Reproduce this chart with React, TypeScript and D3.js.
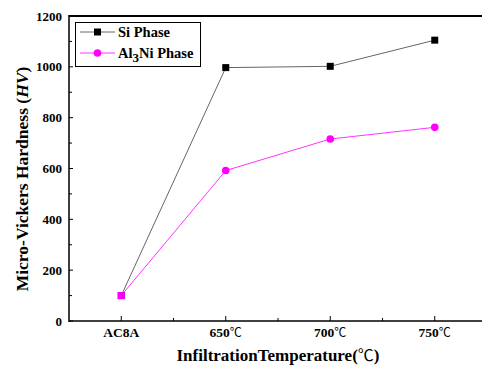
import React from "react";
import * as d3 from "d3";

const categories = ["AC8A", "650", "700", "750"];
const categoryUnit = ["", "℃", "℃", "℃"];
const siValues = [100, 997, 1002, 1105];
const alValues = [100, 592, 716, 762];
const yTicks = [0, 200, 400, 600, 800, 1000, 1200];
const yMinorTicks = [100, 300, 500, 700, 900, 1100];

const W = 482, H = 367;
const L = 69, T = 16, R = 487, B = 321;

export default function App() {
  const x = d3.scalePoint<string>().domain(categories).range([L, R]).padding(0.5);
  const y = d3.scaleLinear().domain([0, 1200]).range([B, T]);
  const step = x.step();
  const minorX = categories.slice(0, -1).map((c) => (x(c) as number) + step / 2);
  const line = d3.line<[number, number]>().x((d) => d[0]).y((d) => d[1]);
  const siPts: [number, number][] = categories.map((c, i) => [x(c) as number, y(siValues[i])]);
  const alPts: [number, number][] = categories.map((c, i) => [x(c) as number, y(alValues[i])]);
  const font = "'Liberation Serif', 'Times New Roman', serif";
  const cjk = "'Noto Sans CJK SC', sans-serif";
  return (
    <svg width={W} height={H} style={{ position: "absolute", left: 0, top: 0, background: "#fff" }} fontFamily={font}>
      <rect x={0} y={0} width={W} height={H} fill="#fff" />
      {/* axes frame */}
      <line x1={L} y1={T} x2={W} y2={T} stroke="#000" strokeWidth={2} />
      <line x1={L} y1={T - 1} x2={L} y2={B + 1} stroke="#000" strokeWidth={1.5} />
      <line x1={L} y1={B} x2={W} y2={B} stroke="#000" strokeWidth={1.5} />
      {yTicks.map((t) => (
        <g key={"y" + t}>
          <line x1={L} x2={L + 4} y1={y(t)} y2={y(t)} stroke="#000" strokeWidth={1} />
          <text x={62} y={y(t)} dy="0.35em" textAnchor="end" fontSize={13} fontWeight="bold">{t}</text>
        </g>
      ))}
      {yMinorTicks.map((t) => (
        <line key={"ym" + t} x1={L} x2={L + 3} y1={y(t)} y2={y(t)} stroke="#000" strokeWidth={1} />
      ))}
      {categories.map((c, i) => (
        <g key={c}>
          <line x1={x(c)} x2={x(c)} y1={B} y2={B - 5} stroke="#000" strokeWidth={1} />
          <text x={x(c)} y={B + 16} textAnchor="middle" fontSize={13.5} fontWeight="bold">
            {c}
            {categoryUnit[i] ? <tspan fontFamily={cjk} fontSize={12} fontWeight="normal">{categoryUnit[i]}</tspan> : null}
          </text>
        </g>
      ))}
      {minorX.map((mx, i) => (
        <line key={"xm" + i} x1={mx} x2={mx} y1={B} y2={B - 3} stroke="#000" strokeWidth={1} />
      ))}
      {/* series */}
      <path d={line(siPts) || ""} fill="none" stroke="#666" strokeWidth={1} />
      <path d={line(alPts) || ""} fill="none" stroke="#ff33ff" strokeWidth={1} />
      {siPts.map((p, i) => (
        <rect key={"s" + i} x={p[0] - 3.5} y={p[1] - 3.5} width={7} height={7} fill="#000" />
      ))}
      {alPts.map((p, i) =>
        i === 0 ? (
          <rect key={"a" + i} x={p[0] - 3.5} y={p[1] - 3.5} width={7} height={7} fill="#ff00ff" />
        ) : (
          <circle key={"a" + i} cx={p[0]} cy={p[1]} r={3.8} fill="#ff00ff" />
        )
      )}
      {/* legend */}
      <rect x={75.5} y={22.5} width={125} height={44} fill="#fff" stroke="#000" strokeWidth={1} />
      <line x1={80} x2={115} y1={32} y2={32} stroke="#666" strokeWidth={1} />
      <rect x={94} y={28.5} width={7} height={7} fill="#000" />
      <text x={118} y={37} fontSize={14.5} fontWeight="bold">Si Phase</text>
      <line x1={80} x2={115} y1={53} y2={53} stroke="#ff33ff" strokeWidth={1} />
      <circle cx={97.5} cy={53} r={3.8} fill="#ff00ff" />
      <text x={118} y={57.5} fontSize={14.5} fontWeight="bold">
        Al<tspan dy={4} fontSize={13}>3</tspan><tspan dy={-4}>Ni Phase</tspan>
      </text>
      {/* axis titles */}
      <text transform="translate(28,179) rotate(-90)" textAnchor="middle" fontSize={17.5} fontWeight="bold">
        Micro-Vickers Hardness (<tspan fontStyle="italic">HV</tspan>)
      </text>
      <text x={278} y={361} textAnchor="middle" fontSize={17} fontWeight="bold">
        InfiltrationTemperature(<tspan fontFamily={cjk} fontWeight="normal" fontSize={16}>℃</tspan>)
      </text>
    </svg>
  );
}
